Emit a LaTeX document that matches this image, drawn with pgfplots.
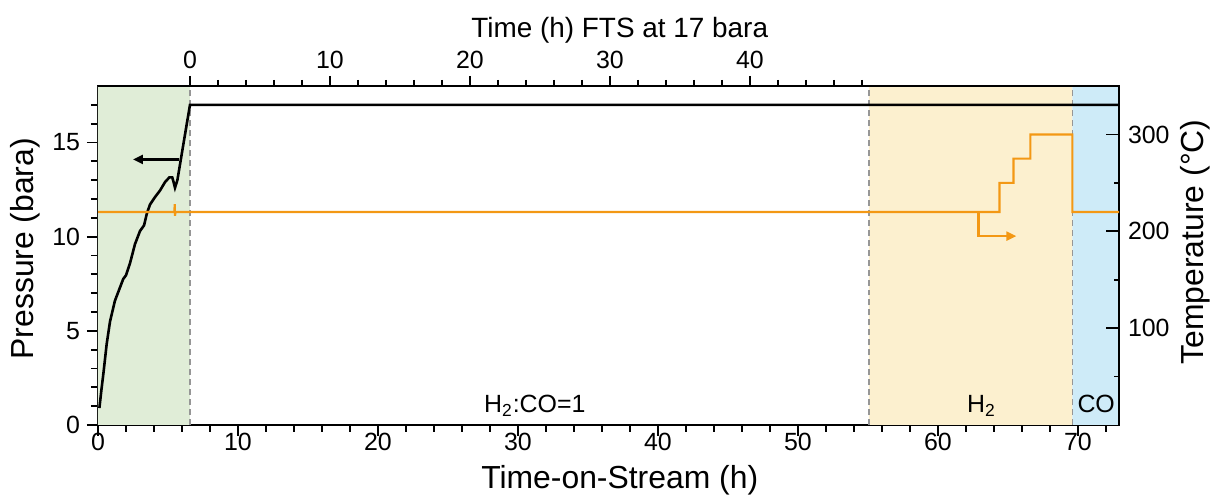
\documentclass[border=0pt]{standalone}
\usepackage{fontspec}
\setmainfont{Liberation Sans}
\usepackage{pgfplots}
\pgfplotsset{compat=1.18}
\usetikzlibrary{arrows.meta}
\definecolor{greenbg}{RGB}{224,237,215}
\definecolor{yellowbg}{RGB}{252,240,207}
\definecolor{bluebg}{RGB}{206,235,248}
\definecolor{tempor}{RGB}{243,152,20}
\definecolor{dashgray}{RGB}{150,150,150}
\pgfplotsset{
  base/.style={width=510.5bp,height=169.5bp,scale only axis,at={(0,0)},anchor=south west,
    /pgf/number format/assume math mode=true,
    tick style={black,line width=0.9bp},
    axis line style={line width=1.2bp},
    ticklabel style={font=\fontsize{12.5}{14}\selectfont},
    label style={font=\fontsize{16}{19}\selectfont},
    xmin=0,xmax=72.93},
}
\begin{document}
\begin{tikzpicture}
% main axis: pressure
\begin{axis}[base,ymin=0,ymax=18,
  xtick={0,10,...,70},minor xtick={2,4,...,72},
  ytick={0,5,10,15},minor ytick={1,...,17},
  tick align=outside,xtick pos=left,ytick pos=left,
  major tick length=5.5bp,minor tick length=3.5bp,
  xticklabel style={yshift=2.5bp,inner sep=1bp},
  xlabel={Time-on-Stream (h)},ylabel={Pressure (bara)},
  xlabel style={at={(axis description cs:0.511,-0.188)},anchor=base},
  ylabel style={at={(axis description cs:-0.0715,0.52)},anchor=center},
  clip=true]
\addplot[draw=none,fill=greenbg] coordinates {(0,0)(0,18)(6.57,18)(6.57,0)} \closedcycle;
\addplot[draw=none,fill=yellowbg] coordinates {(55.07,0)(55.07,18)(69.6,18)(69.6,0)} \closedcycle;
\addplot[draw=none,fill=bluebg] coordinates {(69.6,0)(69.6,18)(72.93,18)(72.93,0)} \closedcycle;
\addplot[dashgray,densely dashed,line width=0.6bp] coordinates {(6.57,0)(6.57,18)};
\addplot[dashgray,densely dashed,line width=0.6bp] coordinates {(55.07,0)(55.07,18)};
\addplot[dashgray,densely dashed,line width=0.6bp] coordinates {(69.6,0)(69.6,18)};
\addplot[black,line width=1.3bp] coordinates {
(0.1,0.9)(0.25,1.9)(0.38,2.7)(0.62,4.3)(0.86,5.5)(1.21,6.6)(1.57,7.3)(1.8,7.75)(2.0,7.95)
(2.29,8.6)(2.64,9.6)(3.0,10.3)(3.29,10.6)(3.48,11.2)(3.71,11.7)(4.07,12.1)(4.43,12.45)
(4.79,12.9)(5.1,13.15)(5.3,13.15)(5.4,12.9)(5.5,12.6)(5.67,13.0)(6.57,17.0)(72.93,17.0)};
\addplot[black,line width=1.1bp,-{Triangle[length=5bp,width=4.5bp]}] coordinates {(5.8,14.1)(2.5,14.1)};
\node[anchor=base,font=\fontsize{12.5}{14}\selectfont] at (axis cs:31.2,0.65) {H\textsubscript{2}:CO=1};
\node[anchor=base,font=\fontsize{12.5}{14}\selectfont] at (axis cs:63.1,0.65) {H\textsubscript{2}};
\node[anchor=base,font=\fontsize{12.5}{14}\selectfont] at (axis cs:71.3,0.65) {CO};
\end{axis}
% right axis: temperature
\begin{axis}[base,ymin=0,ymax=350,
  axis x line=none,axis y line*=right,
  ytick={100,200,300},minor ytick={50,150,250},
  ytick align=inside,major tick length=6.5bp,minor tick length=2.5bp,
  ylabel={Temperature (°C)},
  ylabel style={at={(axis description cs:1.0744,0.54)},anchor=center},
  yticklabel style={xshift=1bp}]
\addplot[tempor,line width=1.1bp] coordinates {
(0,220)(5.46,220)(5.48,228)(5.5,216)(5.53,220)(64.4,220)(64.4,250)(65.4,250)(65.4,275)
(66.6,275)(66.6,300)(69.6,300)(69.6,220)(72.93,220)};
\addplot[tempor,line width=1.1bp,-{Triangle[length=5bp,width=4.5bp]}] coordinates {(62.9,220)(62.9,195)(65.6,195)};
\end{axis}
% top axis
\begin{axis}[base,xmin=-6.57,xmax=66.36,ymin=0,ymax=1,
  axis y line=none,axis x line*=top,
  xtick={0,10,...,40},minor xtick={2,4,...,48},
  tick align=outside,major tick length=5bp,minor tick length=3bp,
  xlabel={Time (h) FTS at 17 bara},
  xlabel style={at={(axis description cs:0.511,1.1445)},anchor=base,font=\fontsize{14}{17}\selectfont}]
\end{axis}
\pgfresetboundingbox
\path (-49bp,-35.5bp) rectangle (559.5bp,212.5bp);
\end{tikzpicture}
\end{document}
